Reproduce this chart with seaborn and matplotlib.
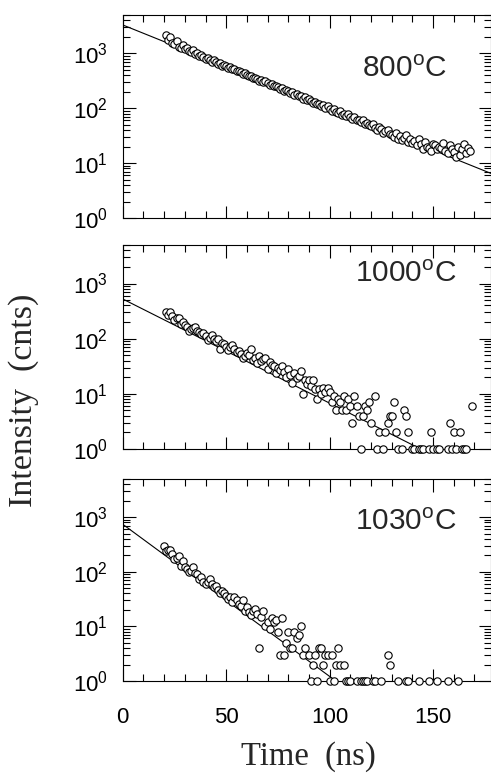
import numpy as np
import pandas as pd
import matplotlib
matplotlib.use("Agg")
import matplotlib.pyplot as plt
import matplotlib.ticker as mticker
import seaborn as sns

# 1. Data (counts, 1 ns channels)

t_800 = np.arange(21, 169)
c_800 = [2150, 1720, 1980, 1560, 1470, 1690, 1330, 1250, 1410, 1190,
         1280, 1110, 1060, 1150, 990, 1020, 900, 930, 860, 800,
         840, 760, 700, 750, 690, 640, 670, 600, 620, 585,
         540, 560, 510, 530, 470, 480, 455, 420, 440, 400,
         380, 395, 350, 360, 345, 320, 330, 300, 310, 290,
         270, 280, 250, 255, 245, 220, 235, 210, 215, 205,
         190, 200, 175, 180, 165, 170, 150, 160, 140, 145,
         135, 125, 130, 118, 122, 110, 115, 100, 108, 96,
         90, 98, 85, 82, 88, 76, 80, 72, 78, 68,
         64, 70, 60, 62, 57, 61, 52, 55, 50, 47,
         52, 44, 40, 46, 42, 36, 39, 41, 34, 33,
         30, 36, 28, 31, 26, 29, 32, 24, 27, 23,
         25, 21, 27, 22, 18, 24, 20, 19, 17, 22,
         21, 18, 20, 19, 23, 17, 15, 21, 18, 16,
         13, 20, 14, 18, 22, 15, 19, 17]

t_1000 = [21, 22, 23, 24, 25, 26, 27, 28, 29, 30, 31, 32, 33, 34, 35, 36, 37, 38, 39, 40,
          41, 42, 43, 44, 45, 46, 47, 48, 49, 50, 51, 52, 53, 54, 55, 56, 57, 58, 59, 60,
          61, 62, 63, 64, 65, 66, 67, 68, 69, 70, 71, 72, 73, 74, 75, 76, 77, 78, 79, 80,
          81, 82, 83, 84, 85, 86, 87, 88, 89, 90, 91, 92, 93, 94, 95, 96, 97, 98, 99, 100,
          101, 102, 103, 104, 105, 106, 107, 108, 109, 110, 111, 112, 113, 114, 115, 116,
          117, 118, 119, 120, 122, 123, 124, 126, 127, 128, 129, 130, 131, 132, 133, 135,
          136, 137, 138, 140, 141, 143, 144, 145, 148, 149, 150, 152, 153, 157, 158, 159,
          160, 161, 163, 164, 165, 166, 169]
c_1000 = [300, 270, 310, 255, 215, 235, 240, 185, 200, 175, 160, 140, 150, 155, 163, 140, 133, 120, 125, 110,
          94, 105, 115, 100, 92, 100, 66, 85, 81, 72, 62, 70, 76, 65, 58, 60, 52, 44, 48, 55,
          50, 66, 41, 45, 36, 48, 40, 42, 44, 28, 38, 34, 32, 24, 30, 27, 32, 25, 20, 28,
          22, 16, 24, 19, 21, 26, 10, 18, 15, 18, 14, 18, 12, 8, 12, 10, 13, 11, 13, 11,
          7, 9, 5, 8, 7, 5, 9, 5, 8, 6, 3, 9, 6, 4, 1, 4,
          6, 5, 7, 3, 9, 1, 2, 1, 2, 3, 4, 4, 7, 2, 1, 1,
          5, 4, 2, 1, 1, 1, 1, 1, 1, 2, 1, 1, 1, 1, 3, 1,
          2, 1, 2, 1, 1, 1, 6]

t_1030 = [20, 21, 22, 23, 24, 25, 26, 27, 28, 29, 30, 31, 32, 33, 34, 35, 36, 37, 38, 39,
          40, 41, 42, 43, 44, 45, 46, 47, 48, 49, 50, 51, 52, 53, 54, 55, 56, 57, 58, 59,
          60, 61, 62, 63, 64, 65, 66, 67, 68, 69, 70, 71, 72, 73, 74, 75, 76, 77, 78, 79,
          80, 81, 82, 83, 84, 85, 86, 87, 88, 90, 91, 92, 93, 94, 95, 96, 97, 98, 99, 100,
          101, 102, 103, 104, 105, 107, 108, 109, 110, 113, 115, 116, 117, 118, 121, 122,
          125, 128, 129, 133, 137, 138, 143, 148, 152, 157, 162]
c_1030 = [290, 237, 255, 250, 210, 170, 180, 195, 127, 158, 120, 110, 98, 105, 120, 96, 91, 74, 80, 66,
          60, 65, 74, 60, 53, 55, 46, 40, 44, 40, 36, 32, 34, 28, 35, 30, 26, 24, 30, 19,
          23, 18, 16, 19, 21, 17, 4, 15, 19, 10, 12, 9, 14, 12, 13, 8, 3, 14, 3, 5,
          8, 4, 4, 8, 6, 7, 10, 3, 4, 3, 1, 2, 3, 1, 4, 4, 2, 3, 3, 1,
          3, 1, 2, 4, 2, 2, 1, 1, 1, 1, 1, 1, 1, 1, 1, 1,
          1, 3, 2, 1, 1, 1, 1, 1, 1, 1, 1]

# fitted single-exponential lines (end points)
fit_t_800, fit_c_800 = [0, 178], [3300, 6.5]
fit_t_1000, fit_c_1000 = [0, 144], [525, 1]
fit_t_1030, fit_c_1030 = [0, 103], [740, 1]

labels = ["800$^{\\rm o}$C", "1000$^{\\rm o}$C", "1030$^{\\rm o}$C"]

panels = [
    (t_800, c_800, fit_t_800, fit_c_800, labels[0]),
    (t_1000, c_1000, fit_t_1000, fit_c_1000, labels[1]),
    (t_1030, c_1030, fit_t_1030, fit_c_1030, labels[2]),
]

# 2. Style

sns.set_style("ticks")
plt.rcParams['font.family'] = ['Liberation Sans', 'DejaVu Sans']
plt.rcParams['mathtext.fontset'] = 'custom'
plt.rcParams['mathtext.rm'] = 'Liberation Sans'
plt.rcParams['mathtext.it'] = 'Liberation Sans:italic'

fig = plt.figure(figsize=(4.91, 7.84), dpi=100)

# axes boxes in figure fraction (left, bottom, width, height)
boxes = [(0.25, 0.7219, 0.75, 0.2589),
         (0.25, 0.4273, 0.75, 0.2602),
         (0.25, 0.1314, 0.75, 0.2577)]
label_pos = [(0.88, 0.696), (0.907, 0.82), (0.907, 0.748)]

for i, (tt, cc, ft, fc, lab) in enumerate(panels):
    ax = fig.add_axes(boxes[i])
    df = pd.DataFrame({'t': tt, 'c': cc})
    fit = pd.DataFrame({'t': ft, 'c': fc})
    ax.set_yscale('log')
    sns.lineplot(data=fit, x='t', y='c', ax=ax, color='black', lw=0.8)
    sns.scatterplot(data=df, x='t', y='c', ax=ax, marker='o', s=28,
                    facecolor='white', edgecolor='black', linewidth=0.8,
                    clip_on=False, zorder=3)
    ax.set_xlim(0, 178)
    ax.set_ylim(1, 5000)
    ax.xaxis.set_major_locator(mticker.MultipleLocator(50))
    ax.xaxis.set_minor_locator(mticker.MultipleLocator(10))
    ax.yaxis.set_major_locator(mticker.LogLocator(base=10, numticks=10))
    ax.yaxis.set_minor_locator(mticker.LogLocator(base=10, subs=np.arange(2, 10), numticks=10))
    ax.yaxis.set_minor_formatter(mticker.NullFormatter())
    ax.tick_params(which='both', direction='in', top=True, right=True, width=0.8, colors='black')
    ax.tick_params(which='major', length=9)
    ax.tick_params(which='minor', length=5)
    ax.tick_params(axis='y', labelsize=16, pad=10.5)
    ax.tick_params(axis='x', labelsize=16, pad=19)
    for sp in ax.spines.values():
        sp.set_linewidth(0.8)
        sp.set_color('black')
    if i < 2:
        ax.tick_params(axis='x', labelbottom=False)
    ax.set_xlabel('')
    ax.set_ylabel('')
    ax.text(label_pos[i][0], label_pos[i][1], lab, transform=ax.transAxes,
            ha='right', va='baseline', fontsize=21.5)

fig.text(308 / 491, 1 - 757 / 784, "Time  (ns)", ha='center', va='center',
         fontsize=23.5, family='Liberation Serif')
fig.text(24 / 491, 1 - 400 / 784, "Intensity  (cnts)", ha='center', va='center',
         rotation=90, fontsize=24.5, family='Liberation Serif')

plt.savefig("out.png", dpi=100)
